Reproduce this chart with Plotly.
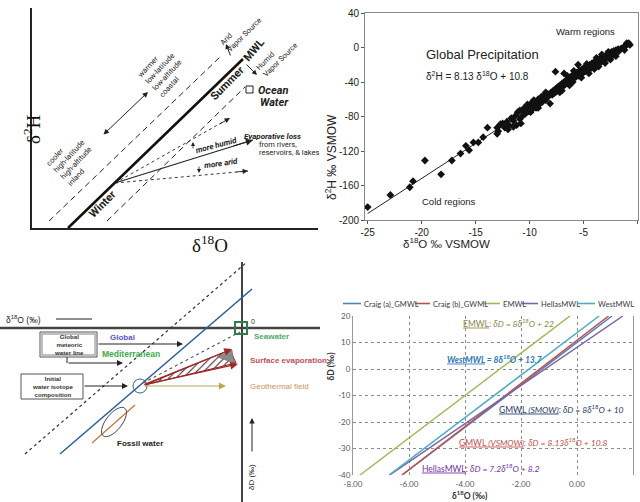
import math
import plotly.graph_objects as go

# ================= DATA =================
# Panel B: global precipitation (δ18O vs δ2H, ‰ VSMOW)
precip_d18O = [
    -25.0, -22.9, -21.1, -20.8, -19.7, -18.2, -17.2, -16.4, -15.9, -15.6, -15.2, -14.75, -14.3,
    -13.9, -13.0, -13.0, -12.9, -12.7,
    -12.5, -12.3, -12.1, -11.9, -11.7, -11.5, -11.3, -11.2, -11.1, -10.9, -10.9, -10.7, -10.6,
    -10.5, -10.4, -10.3, -10.2, -10.1, -10.0, -9.9, -9.8, -9.7, -9.6, -9.5, -9.4, -9.3, -9.2,
    -9.1, -9.0, -8.9, -8.8, -8.7, -8.6, -8.5, -8.4, -8.3, -8.2, -8.1, -8.0, -7.9, -7.8, -7.7,
    -7.6, -7.6, -7.5, -7.4, -7.3, -7.2, -7.1, -7.0, -6.9, -6.8, -6.8, -6.7, -6.6, -6.5, -6.4,
    -6.3, -6.2, -6.1, -6.0, -5.9, -5.8, -5.7, -5.6, -5.5, -5.4, -5.3, -5.2, -5.1, -5.0, -4.9,
    -4.8, -4.7, -4.6, -4.5, -4.4, -4.3, -4.2, -4.1, -4.0, -3.9, -3.8, -3.7, -3.6, -3.5, -3.4,
    -3.3, -3.2, -3.1, -3.0, -2.9, -2.8, -2.7, -2.6, -2.5, -2.4, -2.3, -2.2, -2.1, -2.0, -1.9,
    -1.8, -1.7, -1.5, -1.3, -1.1, -0.9, -0.7,
    -6.5, -5.9, -5.2, -4.7, -3.6, -3.0, -2.5, -8.5, -9.2, -11.5, -10.8, -12.0, -9.8, -7.2,
    -6.0, -4.5, -3.3, -2.0, -1.2, -1.0, -0.8, -5.5, -4.0, -3.8, -2.7, -6.3, -7.0,
]
precip_d2H = [
    -185, -171, -162, -155, -131, -147, -131, -123, -114, -119, -110, -110, -104,
    -93, -93, -100, -97, -89,
    -88, -93, -86, -90, -82, -85, -79, -90, -75, -73, -83, -80, -74,
    -70, -77, -72, -66, -74, -69, -75, -64, -71, -61, -67, -70, -64, -60,
    -66, -62, -57, -63, -59, -55, -61, -58, -54, -56, -65, -52, -55, -50, -53,
    -28, -48, -51, -46, -49, -44, -47, -42, -45, -40, -30, -43, -38, -41, -36,
    -39, -34, -38, -32, -36, -31, -34, -29, -33, -27, -31, -26, -30, -24, -28,
    -23, -27, -21, -25, -20, -24, -18, -22, -17, -21, -15, -19, -14, -18, -12,
    -16, -11, -15, -10, -13, -8, -12, -7, -10, -5, -9, -4, -7, -3, -6,
    -2, -4, -1, 0, 2, 4, 3,
    -33, -27, -35, -19, -22, -18, -14, -52, -70, -92, -88, -95, -72, -52,
    -40, -30, -8, -10, -3, 5, 5, -20, -25, -12, -5, -44, -50,
]
fit_d18O = [-25.0, -1.0]
fit_d2H = [-192.45, 2.67]

# Panel D: meteoric water lines (end points inside the plotted window)
craig_a_d18O = [-6.25, 1.25]
craig_a_dD = [-40, 20]
craig_b_d18O = [-6.25, 1.13]
craig_b_dD = [-40, 20]
emwl_d18O = [-7.75, -0.25]
emwl_dD = [-40, 20]
hellas_d18O = [-6.69, 1.64]
hellas_dD = [-40, 20]
west_d18O = [-6.71, 0.79]
west_dD = [-40, 20]
mwl_names = ["Craig (a)_GMWL", "Craig (b)_GWML", "EMWL", "HellasMWL", "WestMWL"]
mwl_colors = ["#4F81BD", "#C0504D", "#9BBB59", "#8064A2", "#4BACC6"]

x_ticks_b = [-25, -20, -15, -10, -5, 0]
y_ticks_b = [-200, -160, -120, -80, -40, 0, 40]
x_ticks_d = [-8, -6, -4, -2, 0, 2]
y_ticks_d = [-40, -30, -20, -10, 0, 10, 20]

# ================= FIGURE =================
W, H = 640, 502
fig = go.Figure()
SANS = "Liberation Sans"
F1 = "Roboto"
CAL = "Lato"


def px(x):
    return x / W


def py(y):
    return 1 - y / H


def line(ax, xs, ys, color="#222", width=1.0, dash="solid"):
    fig.add_trace(go.Scatter(x=xs, y=ys, mode="lines", xaxis=ax[0], yaxis=ax[1],
                             line=dict(color=color, width=width, dash=dash),
                             hoverinfo="skip", showlegend=False))


def arrow(ax, x0, y0, x1, y1, color="#222", width=1.0, head=2, size=1.0, both=False):
    xr, yr = ax
    fig.add_annotation(x=x1, y=y1, ax=x0, ay=y0, xref=xr, yref=yr, axref=xr, ayref=yr,
                       text="", showarrow=True, arrowhead=head, startarrowhead=head,
                       arrowsize=size, startarrowsize=size, arrowwidth=width, arrowcolor=color,
                       arrowside="end+start" if both else "end")


def text(ax, x, y, t, size=8, color="#222", angle=0, family=SANS, xanchor="center",
         yanchor="middle", align="center"):
    xr, yr = ax
    fig.add_annotation(x=x, y=y, xref=xr, yref=yr, text=t, showarrow=False,
                       font=dict(size=size, color=color, family=family), textangle=angle,
                       xanchor=xanchor, yanchor=yanchor, align=align)


A = ("x", "y")
B = ("x2", "y2")
C = ("x3", "y3")
D = ("x4", "y4")

# ---------------- Panel A: schematic MWL ----------------
line(A, [36, 211], [0, 169], color="#111", width=2.6)
line(A, [17, 188], [7, 171], color="#222", width=1.0, dash="6px,4px")
line(A, [75, 213], [7, 141], color="#222", width=1.0, dash="6px,4px")
# evaporation fan
line(A, [83, 221], [45, 88], color="#222", width=1.1)
arrow(A, 200, 81.5, 221, 88, width=1.1, head=2, size=1.3)
line(A, [83, 198], [45, 110], color="#222", width=0.9, dash="3px,3px")
arrow(A, 186, 103, 198, 110, width=0.9, head=2, size=1.2)
line(A, [83, 216], [45, 57], color="#222", width=0.9, dash="3px,3px")
arrow(A, 203, 56, 216, 57, width=0.9, head=2, size=1.2)
arrow(A, 70, 92, 116, 136, width=1.0, head=2, size=1.1, both=True)
arrow(A, 199, 171, 194, 184, width=1.0, head=2, size=1.0)
arrow(A, 213, 165, 225, 153, width=1.0, head=2, size=1.0)
arrow(A, 161, 78, 161, 86, width=0.8, head=2, size=1.0)
arrow(A, 167, 63, 167, 55, width=0.8, head=2, size=1.0)
fig.add_shape(type="rect", xref="x", yref="y", x0=214, x1=221, y0=135, y1=142,
              line=dict(color="#222", width=1))
text(A, 222, 177, "<b>MWL</b>", size=11, angle=-50, family=F1)
text(A, 195, 145, "<b>Summer</b>", size=11, angle=-45, family=F1)
text(A, 70, 24, "<b>Winter</b>", size=11, angle=-45, family=F1)
text(A, 209, 196, "Arid<br>Vapor Source", size=7.5, angle=-45, family=F1, align="left")
text(A, 245, 171, "Humid<br>Vapor Source", size=7.5, angle=-45, family=F1, align="left")
text(A, 224, 138, "<b><i>Ocean</i></b>", size=11, family=F1, xanchor="left")
text(A, 226, 126, "<b><i>Water</i></b>", size=11, family=F1, xanchor="left")
text(A, 210, 92, "<b><i>Evaporative loss</i></b>", size=8, family=F1, xanchor="left")
text(A, 225, 84, "from rivers,", size=7.5, family=F1, xanchor="left")
text(A, 225, 76, "reservoirs, &amp; lakes", size=7.5, family=F1, xanchor="left")
text(A, 184, 83, "<b><i>more humid</i></b>", size=8, angle=-15, family=F1)
text(A, 189, 65, "<b><i>more arid</i></b>", size=8, angle=-8, family=F1)
text(A, 131, 156, "warmer<br>low-latitude<br>low-altitude<br>coastal", size=7.5, angle=-47,
     family=F1, align="left")
text(A, 40, 68, "cooler<br>high-latitude<br>high-altitude<br>inland", size=7.5, angle=-47,
     family=F1, align="left")
fig.add_annotation(x=px(18), y=py(112), xref="paper", yref="paper", text="δ<sup>2</sup>H",
                   showarrow=False, textangle=-90, font=dict(size=19, family="Liberation Serif",
                                                             color="#111"))
fig.add_annotation(x=px(190), y=py(244), xref="paper", yref="paper", text="δ<sup>18</sup>O",
                   showarrow=False, font=dict(size=19, family="Liberation Serif", color="#111"))

# ---------------- Panel B: global precipitation scatter ----------------
fig.add_trace(go.Scatter(x=fit_d18O, y=fit_d2H, mode="lines", xaxis="x2", yaxis="y2",
                         line=dict(color="#222", width=1), hoverinfo="skip", showlegend=False))
fig.add_trace(go.Scatter(x=precip_d18O, y=precip_d2H, mode="markers", xaxis="x2", yaxis="y2",
                         marker=dict(symbol="diamond", size=6, color="#111"),
                         hoverinfo="skip", showlegend=False))
text(B, -19.8, -8, "Global Precipitation", size=13, xanchor="left")
text(B, -19.8, -33, "δ<sup>2</sup>H = 8.13 δ<sup>18</sup>O + 10.8", size=10, xanchor="left")
text(B, -4.8, 18, "Warm regions", size=9.5)
text(B, -17.5, -178, "Cold regions", size=9.5)
fig.add_annotation(x=px(331), y=py(112), xref="paper", yref="paper",
                   text="δ<sup>2</sup>H ‰ VSMOW", showarrow=False, textangle=-90,
                   font=dict(size=12, family=SANS, color="#222"))
fig.add_annotation(x=px(492), y=py(243), xref="paper", yref="paper",
                   text="δ<sup>18</sup>O ‰ VSMOW", showarrow=False,
                   font=dict(size=11.5, family=SANS, color="#222"))

# ---------------- Panel C: isotope processes schematic ----------------
line(C, [0, 320], [174, 174], color="#444", width=2.4)
line(C, [242, 242], [0, 240], color="#444", width=2.0)
line(C, [25, 247], [48, 240], color="#333", width=1.2, dash="dot")
line(C, [60, 252], [48, 213], color="#2F5F98", width=1.6)
line(C, [143, 240], [119, 170], color="#555", width=1.1, dash="dot")
line(C, [92, 135], [59, 97], color="#D07030", width=1.2)
# hatched evaporation wedge
fig.add_trace(go.Scatter(x=[145, 230, 236, 145], y=[117, 152, 139, 117], mode="lines",
                         fill="toself", xaxis="x3", yaxis="y3", fillcolor="rgba(0,0,0,0)",
                         fillpattern=dict(shape="/", fgcolor="#3a1a1a", bgcolor="rgba(0,0,0,0)",
                                          size=5, solidity=0.2),
                         line=dict(color="#8B1A1A", width=1), hoverinfo="skip",
                         showlegend=False))
fig.add_trace(go.Scatter(x=[217, 232, 234, 217], y=[145, 152, 139, 145], mode="lines",
                         fill="toself", xaxis="x3", yaxis="y3", fillcolor="#8a8a8a",
                         line=dict(color="#666", width=0.5), hoverinfo="skip",
                         showlegend=False))
arrow(C, 143, 117, 232, 153, color="#A0282A", width=1.2, head=2, size=1.3)
arrow(C, 143, 117, 238, 138, color="#A0282A", width=1.2, head=2, size=1.3)
arrow(C, 143, 116, 226, 116, color="#B5A954", width=1.2, head=2, size=1.2)
fig.add_shape(type="circle", xref="x3", yref="y3", x0=133, x1=147, y0=109, y1=123,
              line=dict(color="#3A5F8A", width=1))


def ellipse_path(cx, cy, a, b, deg):
    t = math.radians(deg)
    ux, uy = math.cos(t), math.sin(t)
    vx, vy = -uy, ux
    k = 0.5523
    p0 = (cx + a * ux, cy + a * uy)
    p1 = (cx + b * vx, cy + b * vy)
    p2 = (cx - a * ux, cy - a * uy)
    p3 = (cx - b * vx, cy - b * vy)

    def add(p, s, d):
        return (p[0] + s * d[0], p[1] + s * d[1])
    u, v = (ux, uy), (vx, vy)
    segs = [
        (add(p0, k * b, v), add(p1, k * a, u), p1),
        (add(p1, -k * a, u), add(p2, k * b, v), p2),
        (add(p2, -k * b, v), add(p3, -k * a, u), p3),
        (add(p3, k * a, u), add(p0, -k * b, v), p0),
    ]
    s = "M %.2f,%.2f " % p0
    for c1, c2, e in segs:
        s += "C %.2f,%.2f %.2f,%.2f %.2f,%.2f " % (c1 + c2 + e)
    return s + "Z"


fig.add_shape(type="path", xref="x3", yref="y3", path=ellipse_path(114, 80, 17.5, 8, 52),
              line=dict(color="#444", width=1))
fig.add_shape(type="rect", xref="x3", yref="y3", x0=235, x1=247, y0=168, y1=180,
              line=dict(color="#2E7D4A", width=2))
text(C, 249, 181, "0", size=7, color="#333", xanchor="left")
text(C, 4, 183, "δ<sup>18</sup>O (‰)", size=8.5, color="#222", xanchor="left")
line(C, [56, 92], [183, 183], color="#222", width=1.2)
# boxes
fig.add_shape(type="rect", xref="x3", yref="y3", x0=40, x1=97, y0=145, y1=170,
              line=dict(color="#555", width=1))
fig.add_shape(type="rect", xref="x3", yref="y3", x0=42, x1=95, y0=147, y1=168,
              line=dict(color="#aaa", width=1.5))
text(C, 68.5, 157.5, "<b>Global<br>meteoric<br>water line</b>", size=6.2, color="#333")
fig.add_shape(type="rect", xref="x3", yref="y3", x0=21, x1=83, y0=103, y1=128,
              line=dict(color="#555", width=1))
text(C, 52, 115.5, "<b>Initial<br>water isotope<br>composition</b>", size=6.2, color="#333")
arrow(C, 97, 158, 183, 158, color="#222", width=1, head=2, size=1.2)
line(C, [67, 67], [145, 139], color="#222", width=1)
arrow(C, 67, 139, 123, 139, color="#222", width=1, head=2, size=1.2)
arrow(C, 83, 116, 128, 116, color="#222", width=1, head=2, size=1.2)
text(C, 108, 165, "<b>Global</b>", size=8, color="#5B55C8", xanchor="left")
text(C, 100, 148, "<b>Mediterranean</b>", size=8.5, color="#3DAA4A", xanchor="left")
text(C, 252, 166, "<b>Seawater</b>", size=8, color="#4DAA6A", xanchor="left")
text(C, 248, 142, "<b>Surface evaporation</b>", size=8, color="#C0505A", xanchor="left")
text(C, 248, 116, "Geothermal field", size=8, color="#D09060", xanchor="left")
text(C, 115, 59, "<b>Fossil water</b>", size=8, color="#222", xanchor="left")
text(C, 251, 25, "δD (‰)", size=8, color="#222", angle=-90)
arrow(C, 252, 49, 252, 84, color="#222", width=1, head=2, size=1.1)

# ---------------- Panel D: meteoric water lines ----------------
series_d = [
    (craig_a_d18O, craig_a_dD),
    (craig_b_d18O, craig_b_dD),
    (emwl_d18O, emwl_dD),
    (hellas_d18O, hellas_dD),
    (west_d18O, west_dD),
]
for (xs, ys), name, col in zip(series_d, mwl_names, mwl_colors):
    fig.add_trace(go.Scatter(x=xs, y=ys, mode="lines", name=name, xaxis="x4", yaxis="y4",
                             line=dict(color=col, width=1.5), hoverinfo="skip",
                             showlegend=False))

# custom legend row
leg_line_x = [(343, 361), (415, 430), (484, 500), (522, 538), (578, 595)]
for (x0, x1), name, col in zip(leg_line_x, mwl_names, mwl_colors):
    fig.add_shape(type="line", xref="paper", yref="paper", x0=px(x0), x1=px(x1),
                  y0=py(303.5), y1=py(303.5), line=dict(color=col, width=1.6))
    fig.add_annotation(x=px(x1 + 1), y=py(303.5), xref="paper", yref="paper", text=name,
                       showarrow=False, xanchor="left",
                       font=dict(size=7.6, color="#404040", family=CAL))

text(D, -4.15, 17.2, "<u>EMWL</u>: <i>δD = 8δ<sup>18</sup>O + 22</i>", size=8.5,
     color="#86864C", family=CAL, xanchor="left")
text(D, -4.7, 3.6, "<b><i><u>WestMWL</u> = 8δ<sup>18</sup>O + 13.7</i></b>", size=8.5,
     color="#2E75B6", family=CAL, xanchor="left")
text(D, -2.85, -15.2, "<u>GMWL <i>(SMOW)</i></u>: <i>δD = 8δ<sup>18</sup>O + 10</i>", size=8.5,
     color="#1F3864", family=CAL, xanchor="left")
text(D, -4.3, -27.4, "<u>GMWL <i>(VSMOW)</i></u>: <i>δD = 8.13δ<sup>18</sup>O + 10.8</i>",
     size=8.5, color="#C0504D", family=CAL, xanchor="left")
text(D, -5.6, -37.5, "<u>HellasMWL</u>: <i>δD = 7.2δ<sup>18</sup>O + 8.2</i>", size=8.5,
     color="#7030A0", family=CAL, xanchor="left")
fig.add_annotation(x=px(330), y=py(383), xref="paper", yref="paper", text="<b>δD (‰)</b>",
                   showarrow=False, textangle=-90, font=dict(size=8.5, family=CAL, color="#333"))
fig.add_annotation(x=px(490), y=py(503), xref="paper", yref="paper", yanchor="bottom",
                   text="<b>δ<sup>18</sup>O (‰)</b>", showarrow=False,
                   font=dict(size=8.5, family=CAL, color="#333"))

# ---------------- axes / layout ----------------
hidden = dict(showgrid=False, zeroline=False, showticklabels=False, ticks="", fixedrange=True,
              automargin=False)
fig.update_layout(
    template="none",
    width=W, height=H, margin=dict(l=0, r=0, t=0, b=0, pad=0),
    paper_bgcolor="white", plot_bgcolor="white", showlegend=False,
    font=dict(family=SANS),
    xaxis=dict(domain=[px(32), px(318)], range=[0, 286], anchor="y", showline=True,
               linecolor="#222", linewidth=1.5, **hidden),
    yaxis=dict(domain=[py(228), py(8)], range=[0, 220], anchor="x", showline=True,
               linecolor="#222", linewidth=1.5, **hidden),
    xaxis2=dict(domain=[px(365), px(638)], range=[-25.25, 0.05], anchor="y2",
                tickvals=x_ticks_b, ticktext=[str(v) for v in x_ticks_b],
                ticks="outside", ticklen=3, tickcolor="#555", showline=True, mirror=True,
                linecolor="#888", linewidth=1, showgrid=False, zeroline=False,
                automargin=False, tickfont=dict(size=10, color="#222", family=SANS)),
    yaxis2=dict(domain=[py(220), py(13)], range=[-200, 40], anchor="x2",
                tickvals=y_ticks_b, ticktext=[str(v) for v in y_ticks_b],
                ticks="outside", ticklen=3, tickcolor="#555", showline=True, mirror=True,
                linecolor="#888", linewidth=1, showgrid=False, zeroline=False,
                automargin=False, tickfont=dict(size=10, color="#222", family=SANS)),
    xaxis3=dict(domain=[0, 0.5], range=[0, 320], anchor="y3", visible=False,
                automargin=False),
    yaxis3=dict(domain=[0, 252 / H], range=[0, 252], anchor="x3", visible=False,
                automargin=False),
    xaxis4=dict(domain=[px(353), px(633)], range=[-8, 2], anchor="y4",
                tickvals=x_ticks_d, ticktext=["%.2f" % v for v in x_ticks_d],
                showgrid=True, gridcolor="#8c8c8c", griddash="dot", gridwidth=1,
                zeroline=False, showline=False, ticks="", automargin=False,
                ticklabelstandoff=3,
                tickfont=dict(size=8, color="#595959", family=CAL)),
    yaxis4=dict(domain=[py(475), py(316)], range=[-40, 20], anchor="x4",
                tickvals=y_ticks_d, ticktext=[str(v) for v in y_ticks_d],
                showgrid=True, gridcolor="#8c8c8c", griddash="dot", gridwidth=1,
                zeroline=False, showline=True, mirror=True, linecolor="#9a9a9a", ticks="",
                automargin=False, tickfont=dict(size=8, color="#595959", family=CAL)),
)

# remove the default page margin so the 640x502 figure fills the window exactly
fig.write_html("out.html", config={"displayModeBar": False},
               post_script="document.body.style.margin='0';"
               "document.body.style.padding='0';")
